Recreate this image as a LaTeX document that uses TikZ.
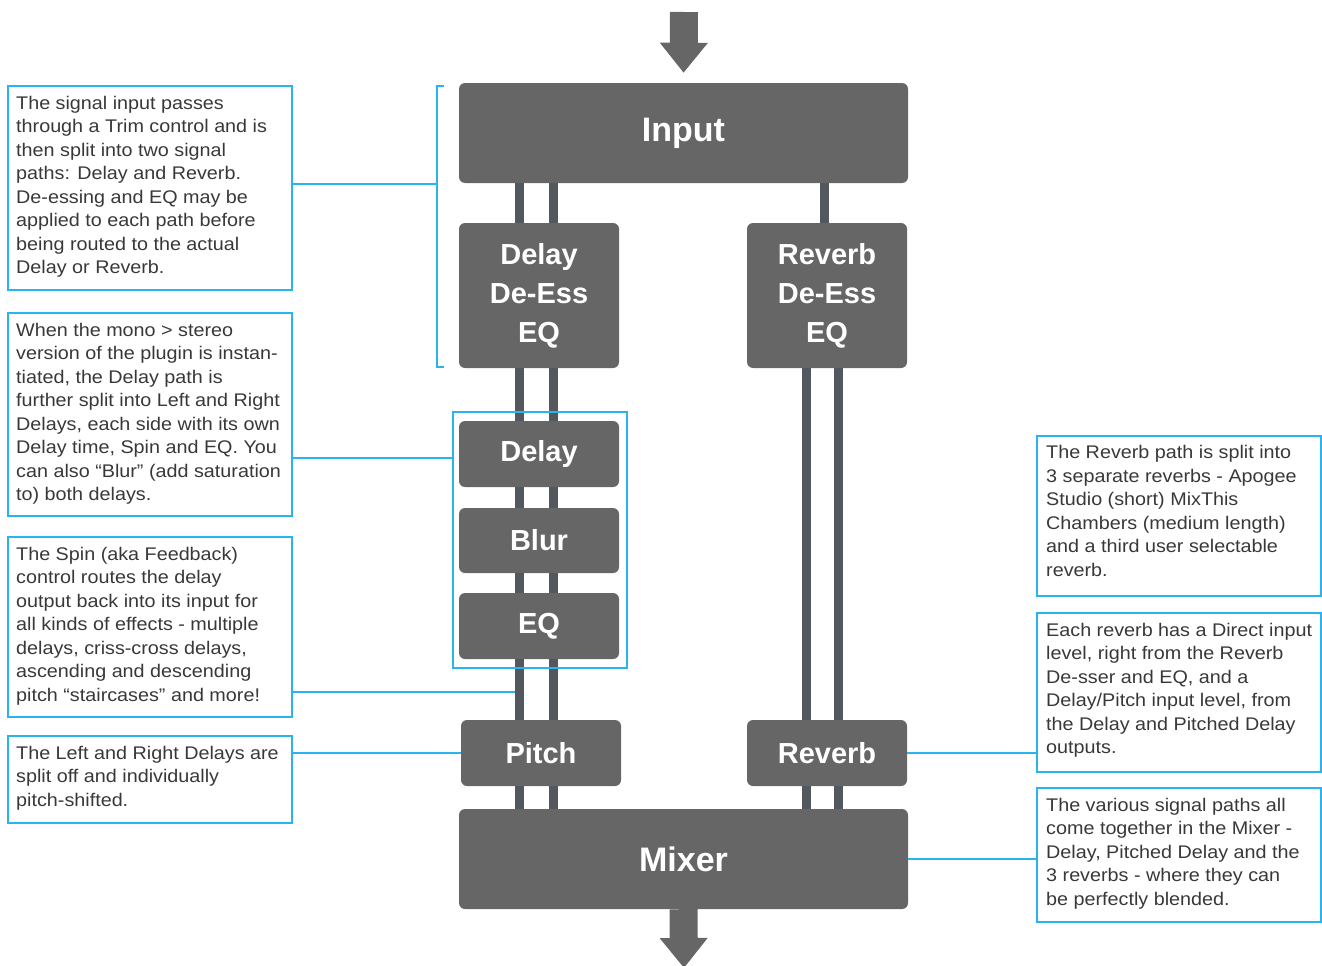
\documentclass[tikz,border=0pt]{standalone}
\usepackage{fontspec}
\setmainfont{Liberation Sans}
\newfontfamily\notefont[FakeStretch=1.08]{Liberation Sans}
\usetikzlibrary{calc,arrows.meta}
\definecolor{boxgray}{HTML}{666666}
\definecolor{linegray}{HTML}{52585E}
\definecolor{cyanline}{HTML}{2BB3EE}
\definecolor{notetext}{HTML}{383838}
\begin{document}
\begin{tikzpicture}[x=1pt,y=-1pt,
  block/.style={fill=boxgray, rounded corners=6pt, draw=none, text=white,
    font=\bfseries\fontsize{29}{39}\selectfont, align=center, inner sep=0},
  bigblock/.style={block, font=\bfseries\fontsize{34}{40}\selectfont},
  note/.style={draw=cyanline, line width=2pt, inner sep=0},
  notetxt/.style={text=notetext, font=\notefont\fontsize{18.3}{23.5}\selectfont, align=left, inner sep=0, anchor=north west},
  conn/.style={draw=linegray, line width=9pt},
  cl/.style={draw=cyanline, line width=1.8pt},
  bigarrow/.style={draw=boxgray, line width=28pt, -{Triangle[width=46pt,length=30pt]}}
]
\useasboundingbox (0,0) rectangle (1322,966);

% blocks
\node[bigblock, minimum width=449, minimum height=100] (input) at (683.5,133) {Input};
\node[block, minimum width=160, minimum height=145] (dde) at (539,295.5) {Delay\\De-Ess\\EQ};
\node[block, minimum width=160, minimum height=145] (rde) at (827,295.5) {Reverb\\De-Ess\\EQ};
\node[block, minimum width=160, minimum height=66] (delay) at (539,454) {Delay};
\node[block, minimum width=160, minimum height=65] (blur) at (539,540.5) {Blur};
\node[block, minimum width=160, minimum height=66] (eq) at (539,626) {EQ};
\node[block, minimum width=160, minimum height=66] (pitch) at (541,753) {Pitch};
\node[block, minimum width=160, minimum height=66] (reverb) at (827,753) {Reverb};
\node[bigblock, minimum width=449, minimum height=100] (mixer) at (683.5,859) {Mixer};

% big arrows
\coordinate (topin) at (684,12);
\coordinate (botout) at (684,968);
\draw[bigarrow, shorten >=10pt] (topin) -- (input.north);
\draw[bigarrow] (mixer.south) -- (botout);

% connectors
\coordinate (L1) at (519,0);
\coordinate (L2) at (553,0);
\coordinate (R0) at (824,0);
\coordinate (R1) at (806,0);
\coordinate (R2) at (838,0);
\foreach \c in {L1,L2}{
  \draw[conn] (input.south -| \c) -- (dde.north -| \c);
  \draw[conn] (dde.south -| \c) -- (delay.north -| \c);
  \draw[conn] (delay.south -| \c) -- (blur.north -| \c);
  \draw[conn] (blur.south -| \c) -- (eq.north -| \c);
  \draw[conn] (eq.south -| \c) -- (pitch.north -| \c);
  \draw[conn] (pitch.south -| \c) -- (mixer.north -| \c);
}
\draw[conn] (input.south -| R0) -- (rde.north -| R0);
\foreach \c in {R1,R2}{
  \draw[conn] (rde.south -| \c) -- (reverb.north -| \c);
  \draw[conn] (reverb.south -| \c) -- (mixer.north -| \c);
}

% cyan group and bracket
\node[note, minimum width=174, minimum height=256] (grp) at (540,540) {};
\draw[cl] (444,86) -- (437,86) -- (437,367) -- (444,367);
\coordinate (bm) at (437,184);

% notes
\node[note, minimum width=284, minimum height=204] (n1) at (150,188) {};
\node[note, minimum width=284, minimum height=203] (n2) at (150,414.5) {};
\node[note, minimum width=284, minimum height=180] (n3) at (150,627) {};
\node[note, minimum width=284, minimum height=87] (n4) at (150,779.5) {};
\node[note, minimum width=284, minimum height=160] (n5) at (1179,515.5) {};
\node[note, minimum width=284, minimum height=159] (n6) at (1179,692.5) {};
\node[note, minimum width=284, minimum height=134] (n7) at (1179,855) {};

\node[notetxt] (t1) at ([shift={(9pt,-11pt)}]n1.north west) {The signal input passes\\through a Trim control and is\\then split into two signal\\paths: Delay and Reverb.\\De-essing and EQ may be\\applied to each path before\\being routed to the actual\\Delay or Reverb.};
\node[notetxt] (t2) at ([shift={(9pt,-11pt)}]n2.north west) {When the mono > stereo\\version of the plugin is instan-\\tiated, the Delay path is\\further split into Left and Right\\Delays, each side with its own\\Delay time, Spin and EQ. You\\can also “Blur” (add saturation\\to) both delays.};
\node[notetxt] (t3) at ([shift={(9pt,-11pt)}]n3.north west) {The Spin (aka Feedback)\\control routes the delay\\output back into its input for\\all kinds of effects - multiple\\delays, criss-cross delays,\\ascending and descending\\pitch “staircases” and more!};
\node[notetxt] (t4) at ([shift={(9pt,-11pt)}]n4.north west) {The Left and Right Delays are\\split off and individually\\pitch-shifted.};
\node[notetxt] (t5) at ([shift={(10pt,-11pt)}]n5.north west) {The Reverb path is split into\\3 separate reverbs - Apogee\\Studio (short) MixThis\\Chambers (medium length)\\and a third user selectable\\reverb.};
\node[notetxt] (t6) at ([shift={(10pt,-11pt)}]n6.north west) {Each reverb has a Direct input\\level, right from the Reverb\\De-sser and EQ, and a\\Delay/Pitch input level, from\\the Delay and Pitched Delay\\outputs.};
\node[notetxt] (t7) at ([shift={(10pt,-11pt)}]n7.north west) {The various signal paths all\\come together in the Mixer -\\Delay, Pitched Delay and the\\3 reverbs - where they can\\be perfectly blended.};

% note connectors
\coordinate (c2) at (453,458);
\coordinate (c3) at (515,692);
\draw[cl] (bm -| n1.east) -- (bm);
\draw[cl] (n2.east |- c2) -- (grp.west |- c2);
\draw[cl] (n3.east |- c3) -- (c3);
\draw[cl] (n4.east |- pitch.west) -- (pitch.west);
\draw[cl] (reverb.east) -- (n6.west |- reverb.east);
\draw[cl] (mixer.east) -- (n7.west |- mixer.east);
\end{tikzpicture}
\end{document}
